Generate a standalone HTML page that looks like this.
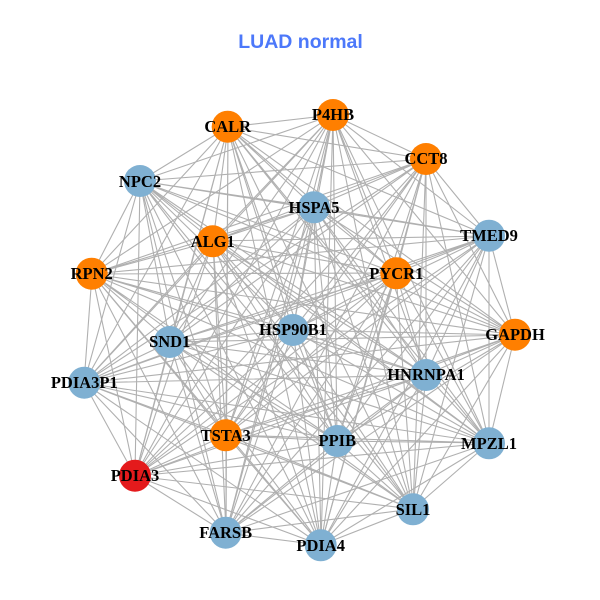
<!DOCTYPE html>
<html><head><meta charset="utf-8"><style>
html,body{margin:0;padding:0;background:#fff}
svg{display:block}
.n text{font:bold 16.5px "Liberation Serif",serif;text-anchor:middle;fill:#000}
</style></head><body>
<svg width="600" height="600" viewBox="0 0 600 600">
<rect width="600" height="600" fill="#fff"/>
<text x="300.5" y="48" text-anchor="middle" style="font:bold 19.5px 'Liberation Sans',sans-serif" fill="#4C78FA">LUAD normal</text>
<g fill="none" stroke="#b0b0b0" stroke-width="1.1">
<path d="M228 127L140 181M228 127L213 241M228 127L92 274M228 127L333 115M228 127L426 159M228 127L314 207M228 127L489 236M228 127L396 273M228 127L515 335M228 127L426 375M228 127L489 443M228 127L337 441M228 127L413 509M228 127L321 545M228 127L226 533M228 127L135 476M228 127L226 435M228 127L84 383M228 127L170 342M228 127L293 330"/>
<path d="M140 181L213 241M140 181L92 274M140 181L333 115M140 181L426 159M140 181L314 207M140 181L489 236M140 181L396 273M140 181L515 335M140 181L426 375M140 181L489 443M140 181L337 441M140 181L413 509M140 181L321 545M140 181L226 533M140 181L135 476M140 181L226 435M140 181L84 383M140 181L170 342M140 181L293 330"/>
<path d="M213 241L92 274M213 241L333 115M213 241L426 159M213 241L314 207M213 241L489 236M213 241L396 273M213 241L515 335M213 241L426 375M213 241L489 443M213 241L337 441M213 241L413 509M213 241L321 545M213 241L226 533M213 241L135 476M213 241L226 435M213 241L84 383M213 241L170 342M213 241L293 330"/>
<path d="M92 274L333 115M92 274L426 159M92 274L314 207M92 274L489 236M92 274L396 273M92 274L515 335M92 274L426 375M92 274L489 443M92 274L337 441M92 274L413 509M92 274L321 545M92 274L226 533M92 274L135 476M92 274L226 435M92 274L84 383M92 274L170 342M92 274L293 330"/>
<path d="M333 115L426 159M333 115L314 207M333 115L489 236M333 115L396 273M333 115L515 335M333 115L426 375M333 115L489 443M333 115L337 441M333 115L413 509M333 115L321 545M333 115L226 533M333 115L135 476M333 115L226 435M333 115L84 383M333 115L170 342M333 115L293 330"/>
<path d="M426 159L314 207M426 159L489 236M426 159L396 273M426 159L515 335M426 159L426 375M426 159L489 443M426 159L337 441M426 159L413 509M426 159L321 545M426 159L226 533M426 159L135 476M426 159L226 435M426 159L84 383M426 159L170 342M426 159L293 330"/>
<path d="M314 207L489 236M314 207L396 273M314 207L515 335M314 207L426 375M314 207L489 443M314 207L337 441M314 207L413 509M314 207L321 545M314 207L226 533M314 207L135 476M314 207L226 435M314 207L84 383M314 207L170 342M314 207L293 330"/>
<path d="M489 236L396 273M489 236L515 335M489 236L426 375M489 236L489 443M489 236L337 441M489 236L413 509M489 236L321 545M489 236L226 533M489 236L135 476M489 236L226 435M489 236L84 383M489 236L170 342M489 236L293 330"/>
<path d="M396 273L515 335M396 273L426 375M396 273L489 443M396 273L337 441M396 273L413 509M396 273L321 545M396 273L226 533M396 273L135 476M396 273L226 435M396 273L84 383M396 273L170 342M396 273L293 330"/>
<path d="M515 335L426 375M515 335L489 443M515 335L337 441M515 335L413 509M515 335L321 545M515 335L226 533M515 335L135 476M515 335L226 435M515 335L84 383M515 335L170 342M515 335L293 330"/>
<path d="M426 375L489 443M426 375L337 441M426 375L413 509M426 375L321 545M426 375L226 533M426 375L135 476M426 375L226 435M426 375L84 383M426 375L170 342M426 375L293 330"/>
<path d="M489 443L337 441M489 443L413 509M489 443L321 545M489 443L226 533M489 443L135 476M489 443L226 435M489 443L84 383M489 443L170 342M489 443L293 330"/>
<path d="M337 441L413 509M337 441L321 545M337 441L226 533M337 441L135 476M337 441L226 435M337 441L84 383M337 441L170 342M337 441L293 330"/>
<path d="M413 509L321 545M413 509L226 533M413 509L135 476M413 509L226 435M413 509L84 383M413 509L170 342M413 509L293 330"/>
<path d="M321 545L226 533M321 545L135 476M321 545L226 435M321 545L84 383M321 545L170 342M321 545L293 330"/>
<path d="M226 533L135 476M226 533L226 435M226 533L84 383M226 533L170 342M226 533L293 330"/>
<path d="M135 476L226 435M135 476L84 383M135 476L170 342M135 476L293 330"/>
<path d="M226 435L84 383M226 435L170 342M226 435L293 330"/>
<path d="M84 383L170 342M84 383L293 330"/>
<path d="M170 342L293 330"/>
</g>
<g class="n">
<circle cx="227.7" cy="126.7" r="16" fill="#FF7F00"/><circle cx="140" cy="181" r="16" fill="#7FB0D2"/><circle cx="212.7" cy="241.3" r="16" fill="#FF7F00"/><circle cx="91.7" cy="273.7" r="16" fill="#FF7F00"/><circle cx="333" cy="115" r="16" fill="#FF7F00"/><circle cx="426" cy="159" r="16" fill="#FF7F00"/><circle cx="314" cy="207.3" r="16" fill="#7FB0D2"/><circle cx="489" cy="235.7" r="16" fill="#7FB0D2"/><circle cx="396.3" cy="273.3" r="16" fill="#FF7F00"/><circle cx="515" cy="334.7" r="16" fill="#FF7F00"/><circle cx="426" cy="375" r="16" fill="#7FB0D2"/><circle cx="489" cy="443.3" r="16" fill="#7FB0D2"/><circle cx="337.3" cy="441" r="16" fill="#7FB0D2"/><circle cx="413" cy="509.3" r="16" fill="#7FB0D2"/><circle cx="320.7" cy="545.3" r="16" fill="#7FB0D2"/><circle cx="225.7" cy="532.7" r="16" fill="#7FB0D2"/><circle cx="135" cy="475.7" r="16" fill="#E41A1C"/><circle cx="225.7" cy="435.3" r="16" fill="#FF7F00"/><circle cx="84.3" cy="382.7" r="16" fill="#7FB0D2"/><circle cx="169.7" cy="342" r="16" fill="#7FB0D2"/><circle cx="293" cy="330" r="16" fill="#7FB0D2"/>
<text x="227.7" y="132">CALR</text><text x="140" y="187">NPC2</text><text x="212.7" y="247">ALG1</text><text x="91.7" y="279">RPN2</text><text x="333" y="120">P4HB</text><text x="426" y="164">CCT8</text><text x="314" y="213">HSPA5</text><text x="489" y="241">TMED9</text><text x="396.3" y="279">PYCR1</text><text x="515" y="340">GAPDH</text><text x="426" y="380">HNRNPA1</text><text x="489" y="449">MPZL1</text><text x="337.3" y="446">PPIB</text><text x="413" y="515">SIL1</text><text x="320.7" y="551">PDIA4</text><text x="225.7" y="538">FARSB</text><text x="135" y="481">PDIA3</text><text x="225.7" y="441">TSTA3</text><text x="84.3" y="388">PDIA3P1</text><text x="169.7" y="347">SND1</text><text x="293" y="335">HSP90B1</text>
</g>
</svg>
</body></html>
